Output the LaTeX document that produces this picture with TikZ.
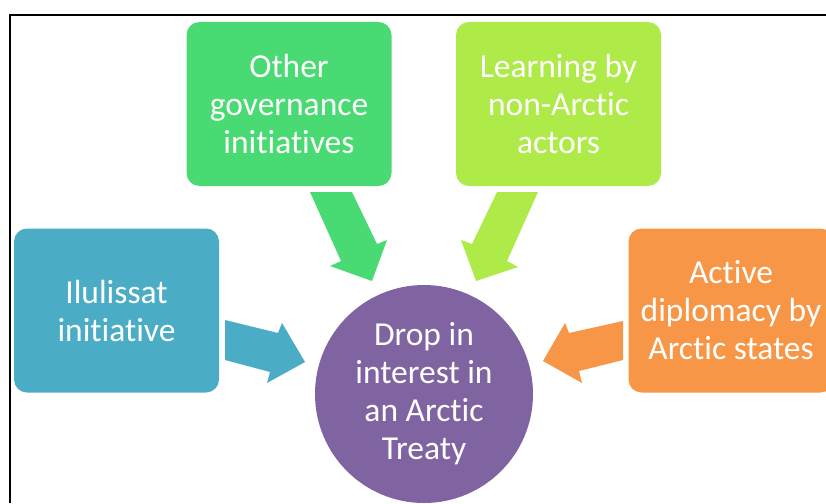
\documentclass[tikz,border=0pt]{standalone}
\usepackage{fontspec}
\setmainfont{Carlito}[Ligatures={NoCommon,NoRare,NoContextual}]
\definecolor{govgreen}{HTML}{4ADA73}
\definecolor{learnlime}{HTML}{AEEA48}
\definecolor{ilublue}{HTML}{4BACC6}
\definecolor{diplorange}{HTML}{F79646}
\definecolor{treatypurple}{HTML}{8064A2}
\begin{document}
\begin{tikzpicture}[
    x=1pt, y=-1pt,
    every node/.style={text=white, align=center, font=\fontsize{33.5}{38}\selectfont},
    factor/.style={draw=none, rounded corners=13pt, minimum width=205pt, minimum height=164pt, inner sep=0pt},
    hub/.style={circle, draw=none, minimum size=218pt, inner sep=0pt},
    frameline/.style={line width=1.5pt, black}
]
    \useasboundingbox (0,0) rectangle (826,503);
    \clip (0,0) rectangle (826,503);
    \draw[frameline] (10,503) -- (10,15) -- (826,15);

    \node[factor, fill=govgreen] (gov) at (289,104) {Other\\governance\\initiatives};
    \node[factor, fill=learnlime] (learn) at (558.5,104) {Learning by\\non-Arctic\\actors};
    \node[factor, fill=ilublue] (ilu) at (116.5,310.5) {Ilulissat\\initiative};
    \node[factor, fill=diplorange] (dipl) at (731,310.5) {Active\\diplomacy by\\Arctic states};
    \node[hub, fill=treatypurple] (treaty) at (424,394) {Drop in\\interest in\\an Arctic\\Treaty};

    % block arrows into the hub
    \fill[govgreen] (310,192) -- (352,192) -- (377,244) -- (387,240) -- (372,281) -- (330,266) -- (341,261) -- cycle;
    \fill[learnlime] (497,192) -- (538,192) -- (507,261) -- (518,267) -- (476,281) -- (461,240) -- (472,244) -- cycle;
    \fill[ilublue] (225,320) -- (278,333) -- (282,323) -- (305,362) -- (267,383) -- (270,372) -- (225,360) -- cycle;
    \fill[diplorange] (623,321) -- (569,333) -- (565,323) -- (543,361) -- (582,383) -- (579,371) -- (623,360) -- cycle;
\end{tikzpicture}
\end{document}
